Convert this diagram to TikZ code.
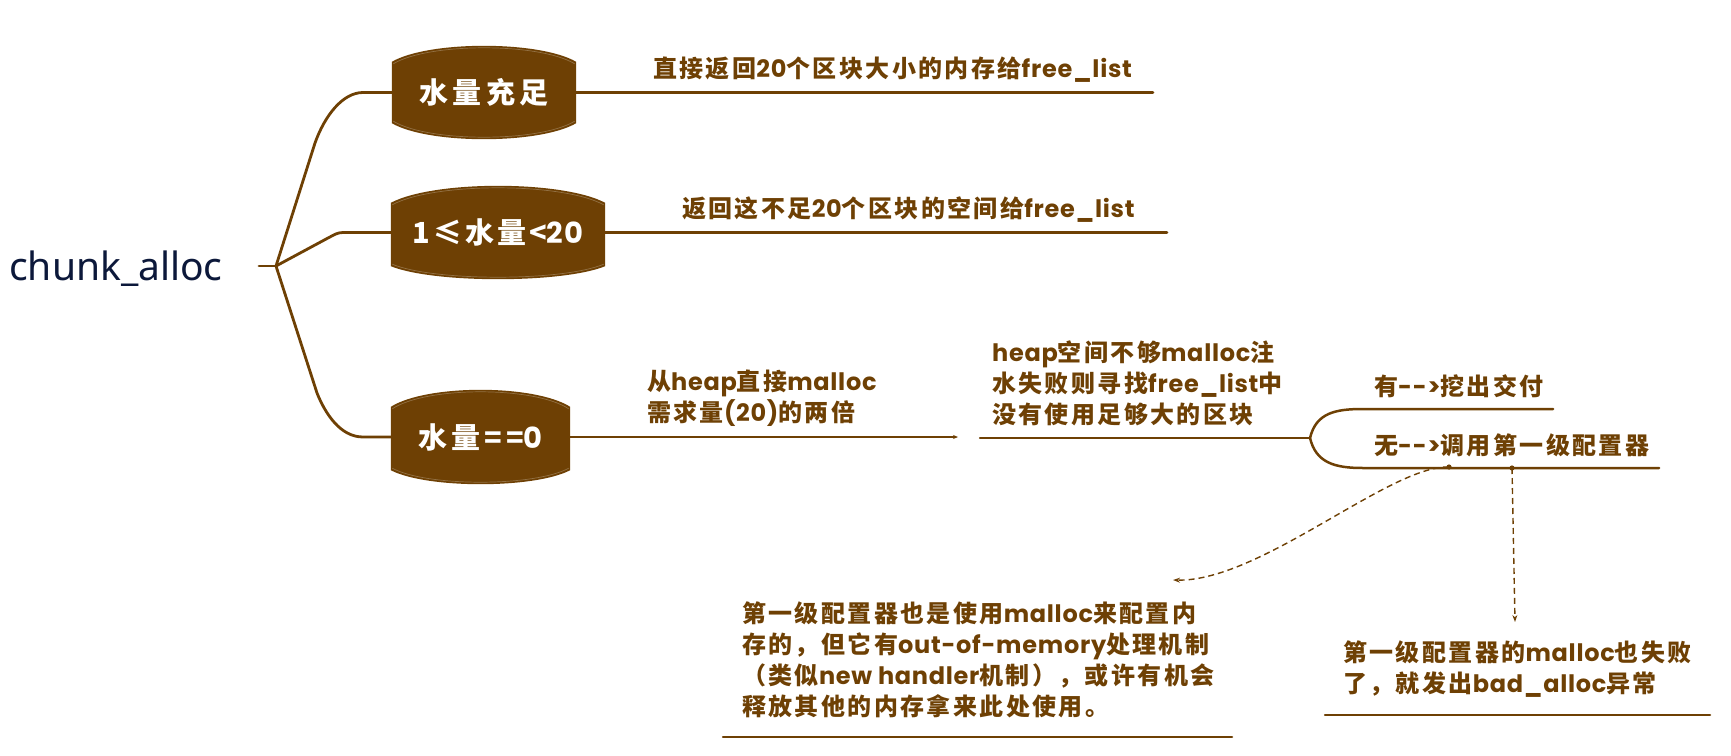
\documentclass[tikz,border=0pt]{standalone}
\usepackage{fontspec}
\usetikzlibrary{arrows.meta,backgrounds,calc}
\newfontfamily\cjk{Noto Sans CJK SC}[LetterSpace=10]
\newfontfamily\cjkw{Noto Sans CJK SC}[LetterSpace=14]
\newfontfamily\latf{Poppins}[LetterSpace=3]
\newfontfamily\rootf{Noto Sans}
\definecolor{brn}{RGB}{110,64,4}
\definecolor{navy}{RGB}{12,24,58}
\newcommand\lt[1]{{\latf #1}}
\newcommand\barrel[3]{%
  \fill[brn] let \p1=(#1.north west), \p2=(#1.south east) in
    (\x1,\y1-#2pt) .. controls ({\x1+0.2*(\x2-\x1)},{\y1+#2pt/3}) and ({\x2-0.2*(\x2-\x1)},{\y1+#2pt/3}) .. (\x2,\y1-#2pt)
    -- (\x2,\y2+#3pt) .. controls ({\x2-0.2*(\x2-\x1)},{\y2-#3pt/3}) and ({\x1+0.2*(\x2-\x1)},{\y2-#3pt/3}) .. (\x1,\y2+#3pt) -- cycle;
  \draw[brn!75!white, line width=0.7pt] let \p1=(#1.north west), \p2=(#1.south east) in
    (\x1+1.5pt,\y1-#2pt-2pt) .. controls ({\x1+0.2*(\x2-\x1)},{\y1+#2pt/3-2pt}) and ({\x2-0.2*(\x2-\x1)},{\y1+#2pt/3-2pt}) .. (\x2-1.5pt,\y1-#2pt-2pt);
  \draw[brn!75!white, line width=0.7pt] let \p1=(#1.north west), \p2=(#1.south east) in
    (\x2-1.5pt,\y2+#3pt+2pt) .. controls ({\x2-0.2*(\x2-\x1)},{\y2-#3pt/3+2pt}) and ({\x1+0.2*(\x2-\x1)},{\y2-#3pt/3+2pt}) .. (\x1+1.5pt,\y2+#3pt+2pt);}
\tikzset{
  br/.style={draw=brn, line width=2.8pt, line cap=round, line join=round},
  ul/.style={draw=brn, line width=2.5pt, line cap=round},
  dsh/.style={draw=brn, line width=1.4pt, dash pattern=on 6pt off 4pt, -{Stealth[length=7pt,width=5pt]}},
  txt/.style={anchor=west, inner sep=0pt, text=brn, align=left, font=\cjk\bfseries\fontsize{24}{31}\selectfont},
  boxn/.style={inner sep=0pt, text=white, font=\cjkw\bfseries\fontsize{29}{34}\selectfont},
}
\begin{document}
\begin{tikzpicture}[x=1pt,y=-1pt]
\useasboundingbox (0,0) rectangle (1731,755);
% root
\node[anchor=base west, inner sep=0pt, text=navy, font=\rootf\fontsize{39}{42}\selectfont] (root) at (9,280) {chunk\_alloc};
\coordinate (r0) at (259,266);
\coordinate (fork) at (276,266);
% boxes
\node[boxn, minimum width=184pt, minimum height=93pt] (b1) at (484,92.5) {水量充足};
\node[boxn, minimum width=214pt, minimum height=93pt, font=\cjk\bfseries\fontsize{29}{34}\selectfont] (b2) at (498,232.5) {1≤水量<\lt{20}};
\node[boxn, minimum width=179pt, minimum height=94pt] (b3) at (480.5,437) {水量==\lt{0}};
\begin{scope}[on background layer]
\barrel{b1}{16}{16}
\barrel{b2}{17}{13}
\barrel{b3}{17}{14}
\end{scope}
% branches
\draw[br] (r0) -- (fork);
\draw[br] (fork) -- (315,143) .. controls (325,115) and (343,92.5) .. (363,92.5) -- (b1.west);
\draw[br] (fork) -- (328,238) .. controls (334,235) and (337,232.5) .. (343,232.5) -- (b2.west);
\draw[br] (fork) -- (317,393) .. controls (325,413) and (340,437) .. (363,437) -- (b3.west);
% texts
\node[txt] (t1) at (653,70) {直接返回\lt{20}个区块大小的内存给\lt{free\_list}};
\node[txt] (t2) at (682,210) {返回这不足\lt{20}个区块的空间给\lt{free\_list}};
\node[txt] (t3) at (647,398.5) {从\lt{heap}直接\lt{malloc}\\需求量\lt{(20)}的两倍};
\node[txt] (t4) at (992,383.5) {\lt{heap}空间不够\lt{malloc}注\\水失败则寻找\lt{free\_list}中\\没有使用足够大的区块};
\node[txt] (t5) at (1374,386) {有\lt{-{}-{}>}挖出交付};
\node[txt] (t6) at (1374,445) {无\lt{-{}-{}>}调用第一级配置器};
\node[txt] (t7) at (742,660) {第一级配置器也是使用\lt{malloc}来配置内\\存的，但它有\lt{out-of-memory}处理机制\\（类似\lt{new handler}机制），或许有机会\\释放其他的内存拿来此处使用。};
\node[txt] (t8) at (1343,669) {第一级配置器的\lt{malloc}也失败\\了，就发出\lt{bad\_alloc}异常};
% underlines
\coordinate (e1) at (1153,92.5);
\coordinate (e2) at (1167,232.5);
\coordinate (e3) at (958,437);
\coordinate (s4) at (980,438);
\coordinate (fork2) at (1310,438);
\coordinate (u5) at (1363,409);
\coordinate (e5) at (1553,409);
\coordinate (u6) at (1363,468);
\coordinate (e6) at (1659,468);
\draw[ul] (b1.east) -- (e1);
\draw[ul] (b2.east) -- (e2);
\draw[ul, -{Stealth[length=5pt,width=4pt]}] (b3.east) -- (e3);
\draw[ul] (s4) -- (fork2);
\draw[ul] (fork2) .. controls (1316,413) and (1335,409) .. (u5) -- (e5);
\draw[ul] (fork2) .. controls (1316,463) and (1335,468) .. (u6) -- (e6);
\coordinate (l7a) at (723,737);
\coordinate (l7b) at (1232,737);
\coordinate (l8a) at (1325,715);
\coordinate (l8b) at (1710,715);
\draw[ul] (l7a) -- (l7b);
\draw[ul] (l8a) -- (l8b);
% dashed arrows
\coordinate (d1) at (1449,467);
\coordinate (a1) at (1173,580);
\coordinate (d2) at (1512,468);
\coordinate (a2) at (1515,622);
\fill[brn] (d1) circle (2.6);
\fill[brn] (d2) circle (2.6);
\draw[dsh] (d1) .. controls (1390,465) and (1260,582) .. (a1);
\draw[dsh] (d2) -- (a2);
\end{tikzpicture}
\end{document}
